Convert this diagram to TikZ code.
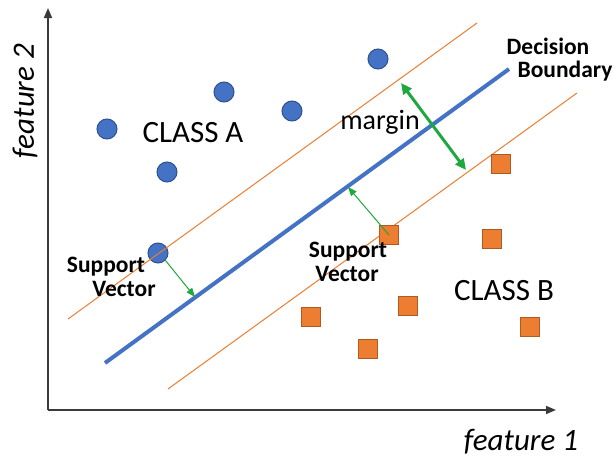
\documentclass[tikz,border=0pt]{standalone}
\usepackage{fontspec}
\setmainfont{Carlito}
\usetikzlibrary{arrows.meta}
\definecolor{ptblue}{HTML}{4472C4}
\definecolor{ptblueedge}{HTML}{2F528F}
\definecolor{ptorange}{HTML}{ED7D31}
\definecolor{ptorangeedge}{HTML}{AE5A21}
\definecolor{mgreen}{HTML}{1FA83E}
\definecolor{axisgray}{HTML}{3A3A3A}
\begin{document}
\begin{tikzpicture}[x=1pt,y=-1pt,
  classA/.style={circle,fill=ptblue,draw=ptblueedge,line width=1pt,minimum size=20pt,inner sep=0pt},
  classB/.style={rectangle,fill=ptorange,draw=ptorangeedge,line width=1pt,minimum size=19pt,inner sep=0pt},
  gutter/.style={ptorange,line width=1pt},
  boundary/.style={ptblue,line width=4pt},
  axisline/.style={axisgray,line width=1.5pt,-{Triangle[length=10pt,width=8pt]}},
  thinarrow/.style={mgreen,line width=1pt,-{Triangle[length=9pt,width=7pt]}},
  margarrow/.style={mgreen,line width=3pt,{Triangle[length=11pt,width=10pt]}-{Triangle[length=11pt,width=10pt]}},
  axislabel/.style={font=\fontsize{31}{31}\selectfont\itshape,inner sep=0pt},
  classlabel/.style={font=\fontsize{31}{31}\selectfont,inner sep=0pt},
  boldlabel/.style={font=\fontsize{23.5}{23.5}\selectfont\bfseries,inner sep=0pt},
]
\useasboundingbox (0,0) rectangle (616,458);

% axes
\coordinate (origin) at (48,410);
\coordinate (xend) at (556,410);
\coordinate (yend) at (48,8);
\draw[axisline] (origin) -- (xend);
\draw[axisline] (origin) -- (yend);

% class A points
\node[classA] (a1) at (107,129) {};
\node[classA] (a2) at (167,172) {};
\node[classA] (a3) at (224,92) {};
\node[classA] (a4) at (292,111) {};
\node[classA] (a5) at (378,59) {};
\node[classA] (sva) at (158,253) {};

% margin lines and decision boundary
\coordinate (u1) at (68,319);
\coordinate (u2) at (477,23);
\coordinate (l1) at (168,389);
\coordinate (l2) at (577,93);
\coordinate (b1) at (105,363);
\coordinate (b2) at (509,69);
\draw[gutter] (u1) -- (u2);
\draw[gutter] (l1) -- (l2);
\draw[boundary] (b1) -- (b2);

% class B points
\node[classB] (svb) at (389,235) {};
\node[classB] (b3) at (501,164) {};
\node[classB] (b4) at (492,239) {};
\node[classB] (b5) at (408,306) {};
\node[classB] (b6) at (311,317) {};
\node[classB] (b7) at (368,349) {};
\node[classB] (b8) at (530,327) {};

% distances to the boundary
\coordinate (fa) at (195,297);
\coordinate (fb) at (348,187);
\draw[thinarrow] (sva.south east) -- (fa);
\draw[thinarrow] (svb.center) -- (fb);
\coordinate (m1) at (401,83);
\coordinate (m2) at (466,170);
\draw[margarrow] (m1) -- (m2);

% labels
\node[axislabel,rotate=90] (f2) at (25,101) {feature 2};
\node[axislabel] (f1) at (521,442) {feature 1};
\node[classlabel] (ca) at (193,133) {CLASS A};
\node[classlabel] (cb) at (504,291) {CLASS B};
\node[classlabel,font=\fontsize{28}{28}\selectfont] (mg) at (380,122) {margin};
\node[boldlabel] (db1) at (548,46) {Decision};
\node[boldlabel] (db2) at (565,71) {Boundary};
\node[boldlabel] (s1) at (106,267) {Support};
\node[boldlabel] (s2) at (124,289) {Vector};
\node[boldlabel] (s3) at (348,252) {Support};
\node[boldlabel] (s4) at (347,274) {Vector};
\end{tikzpicture}
\end{document}
